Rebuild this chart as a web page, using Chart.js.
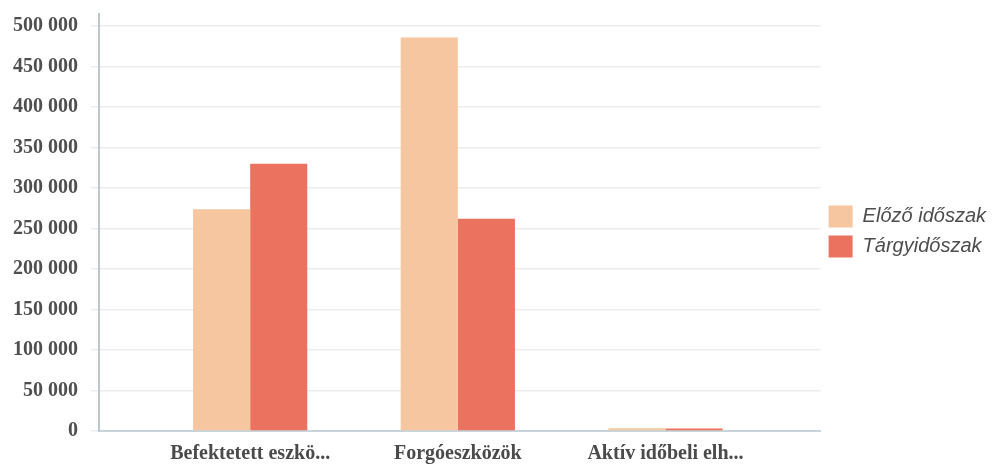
<!DOCTYPE html>
<html>
<head>
<meta charset="utf-8">
<script src="https://cdn.jsdelivr.net/npm/chart.js@4/dist/chart.umd.min.js"></script>
<style>
  body { margin: 0; background: #fff; }
</style>
</head>
<body>
<canvas id="barChart" width="992" height="467"></canvas>
<script>
const categories = ['Befektetett eszkö...', 'Forgóeszközök', 'Aktív időbeli elh...'];
const seriesNames = ['Előző időszak', 'Tárgyidőszak'];
const elozo = [274000, 486000, 3500];   // Előző időszak
const targy = [330000, 262000, 3000];   // Tárgyidőszak
const yTicks = [0, 50000, 100000, 150000, 200000, 250000, 300000, 350000, 400000, 450000, 500000];

const toPoints = (vals) => vals.map((v, i) => ({ x: i + 1, y: v }));
const fmt = (v) => String(v).replace(/\B(?=(\d{3})+(?!\d))/g, ' ');

const ctx = document.getElementById('barChart').getContext('2d');

const chart = new Chart(ctx, {
  type: 'bar',
  data: {
    datasets: [
      {
        label: seriesNames[0],
        data: toPoints(elozo),
        backgroundColor: '#F5C6A0',
        categoryPercentage: 0.55,
        barPercentage: 1.0,
      },
      {
        label: seriesNames[1],
        data: toPoints(targy),
        backgroundColor: '#EC7260',
        categoryPercentage: 0.55,
        barPercentage: 1.0,
      }
    ]
  },
  options: {
    responsive: false,
    animation: false,
    layout: { padding: { top: 0, left: 0, right: -4, bottom: -10 } },
    plugins: {
      legend: {
        position: 'right',
        fullSize: false,
        // empty title only pushes the items down a little
        title: { display: true, text: ' ', padding: 4, font: { size: 10, lineHeight: 1 } },
        labels: {
          boxWidth: 24,
          boxHeight: 22,
          padding: 8,
          color: '#4d4d4d',
          font: { family: '"Liberation Sans", Arial, sans-serif', size: 20, style: 'italic' }
        }
      },
      tooltip: { enabled: false },
      title: { display: false }
    },
    scales: {
      x: {
        type: 'linear',
        min: 0.272,
        max: 3.747,
        offset: false,
        grid: { display: false, drawTicks: false },
        border: { display: true, color: '#C7D4D9', width: 2 },
        afterBuildTicks: (scale) => {
          scale.ticks = categories.map((c, i) => ({ value: i + 1 }));
        },
        ticks: {
          autoSkip: false,
          maxRotation: 0,
          padding: 11,
          color: '#4a4a4a',
          font: { family: '"Liberation Serif", "Times New Roman", serif', size: 20, weight: 'bold' },
          callback: (v) => categories[v - 1] || ''
        }
      },
      y: {
        min: 0,
        max: 515000,
        afterBuildTicks: (scale) => {
          scale.ticks = yTicks.map(v => ({ value: v }));
        },
        grid: {
          color: '#E9EDF0',
          tickColor: '#E9EDF0',
          tickLength: 8,
          lineWidth: 1.5
        },
        border: { display: true, color: '#B9C9C9', width: 2 },
        ticks: {
          padding: 13,
          color: '#4f4f4f',
          font: { family: '"Liberation Serif", "Times New Roman", serif', size: 20, weight: 'bold', lineHeight: 0.1 },
          callback: (v) => fmt(v)
        }
      }
    }
  }
});
</script>
</body>
</html>
